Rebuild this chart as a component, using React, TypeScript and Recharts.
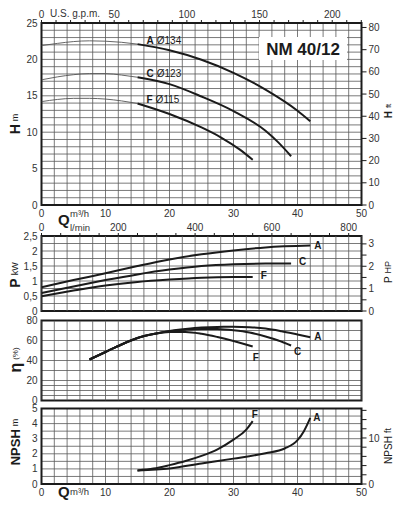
import React from "react";
import {
  LineChart,
  Line,
  XAxis,
  YAxis,
  CartesianGrid,
  ReferenceArea,
} from "recharts";

const FONT = "'Liberation Sans', Arial, Helvetica, sans-serif";
const INK = "#1b1b1b";
const GRID = "#585858";
const TXT = "#333333";

// ---- flow axes ----
const qDomain = [0, 50];
const qTicks = [0, 2, 4, 6, 8, 10, 12, 14, 16, 18, 20, 22, 24, 26, 28, 30, 32, 34, 36, 38, 40, 42, 44, 46, 48, 50];
const qLabels = [0, 10, 20, 30, 40, 50];

const GPM_PER_M3H = 4.40287;
const gpmTicks = [0, 10, 20, 30, 40, 50, 60, 70, 80, 90, 100, 110, 120, 130, 140, 150, 160, 170, 180, 190, 200, 210, 220];
const gpmLabels = [0, 50, 100, 150, 200];

const LMIN_PER_M3H = 16.6667;
const lminTicks = [0, 50, 100, 150, 200, 250, 300, 350, 400, 450, 500, 550, 600, 650, 700, 750, 800];
const lminLabels = [0, 200, 400, 600, 800];

// ---- head ----
const headDomain = [0, 25];
const headTicks = [0, 1, 2, 3, 4, 5, 6, 7, 8, 9, 10, 11, 12, 13, 14, 15, 16, 17, 18, 19, 20, 21, 22, 23, 24, 25];
const headLabels = [0, 5, 10, 15, 20, 25];
const headFtDomain = [0, 82.02];
const headFtTicks = [0, 10, 20, 30, 40, 50, 60, 70, 80];

const headThinQ = [0, 2.5, 5, 7.5, 10, 12.5, 15];
const headAThin = [21.9, 22.2, 22.45, 22.55, 22.5, 22.35, 22.1];
const headCThin = [17.2, 17.6, 17.9, 18.05, 18.05, 17.85, 17.55];
const headFThin = [14.2, 14.5, 14.65, 14.65, 14.55, 14.3, 13.95];

const headAQ = [15, 20, 25, 30, 35, 40, 42];
const headA = [22.1, 21.25, 19.95, 18.15, 15.85, 12.95, 11.5];
const headCQ = [15, 20, 25, 30, 35, 37, 39];
const headC = [17.55, 16.6, 14.9, 12.9, 10.2, 8.6, 6.7];
const headFQ = [15, 20, 25, 28, 31, 33];
const headF = [13.95, 12.5, 10.65, 9.3, 7.6, 6.2];

// ---- power ----
const powerDomain = [0, 2.5];
const powerTicks = [0, 0.25, 0.5, 0.75, 1, 1.25, 1.5, 1.75, 2, 2.25, 2.5];
const powerLabels = [0, 0.5, 1, 1.5, 2, 2.5];
const hpDomain = [0, 3.3526];
const hpTicks = [0, 0.5, 1, 1.5, 2, 2.5, 3];
const hpLabels = [0, 1, 2, 3];

const powerAQ = [0, 5, 10, 15, 20, 25, 30, 35, 42];
const powerA = [0.79, 1.03, 1.26, 1.5, 1.72, 1.89, 2.02, 2.12, 2.18];
const powerCQ = [0, 5, 10, 15, 20, 25, 30, 35, 39];
const powerC = [0.6, 0.82, 1.03, 1.22, 1.38, 1.5, 1.56, 1.58, 1.58];
const powerFQ = [0, 5, 10, 15, 20, 25, 30, 33];
const powerF = [0.49, 0.68, 0.85, 0.97, 1.05, 1.11, 1.13, 1.13];

// ---- efficiency ----
const effDomain = [0, 80];
const effTicks = [0, 5, 10, 15, 20, 30, 40, 50, 60, 70, 80];
const effLabels = [0, 20, 40, 60, 80];

const effAQ = [7.5, 10, 12.5, 15, 17.5, 20, 22.5, 25, 27.5, 30, 32.5, 35, 37.5, 40, 42];
const effA = [41, 48.5, 56, 62.5, 66.5, 69.5, 71.5, 73, 73.6, 73.7, 73.3, 72, 69.3, 66, 63.3];
const effCQ = [7.5, 10, 12.5, 15, 17.5, 20, 22.5, 25, 27.5, 30, 32.5, 35, 37, 39];
const effC = [41, 48.5, 56, 62.5, 66.5, 69.3, 70.8, 71.6, 71.4, 70.2, 68, 64, 60, 55];
const effFQ = [7.5, 10, 12.5, 15, 17.5, 20, 22.5, 25, 27.5, 30, 33];
const effF = [41, 48.5, 56, 62.5, 66.5, 68.5, 68.6, 66.8, 63.5, 59.5, 54];

// ---- NPSH ----
const npshDomain = [0, 5];
const npshTicks = [0, 0.5, 1, 1.5, 2, 2.5, 3, 3.5, 4, 4.5, 5];
const npshLabels = [0, 1, 2, 3, 4, 5];
const npshFtDomain = [0, 16.404];
const npshFtTicks = [0, 2, 4, 6, 8, 10, 12, 14, 16];
const npshFtLabels = [0, 10];

const npshFQ = [15, 17.5, 20, 22.5, 25, 27.5, 30, 32, 33];
const npshF = [0.9, 1.02, 1.25, 1.52, 1.86, 2.3, 2.94, 3.6, 4.16];
const npshAQ = [15, 20, 25, 30, 35, 38, 40, 41, 42];
const npshA = [0.9, 1.03, 1.36, 1.68, 2.04, 2.35, 2.9, 3.5, 4.38];

const rows = (q: number[], v: number[]) => q.map((x, i) => ({ q: x, v: v[i] }));
const only = (list: number[], comma = false) => (v: number) =>
  list.includes(v) ? (comma ? String(v).replace(".", ",") : String(v)) : "";

// secondary flow units placed on the m3/h scale
const gpmAtQ = gpmTicks.map((g) => g / GPM_PER_M3H);
const lminAtQ = lminTicks.map((l) => l / LMIN_PER_M3H);
const unitLabel = (factor: number, list: number[]) => (v: number) => {
  const u = Math.round(v * factor);
  return list.includes(u) ? String(u) : "";
};

const tickStyle = { fontSize: 10, fill: TXT, fontFamily: FONT };
const W = 403;
const SIDE = 41.5;

// curve tag drawn next to one point of a line
const tag =
  (text: string, at: number, dx: number, dy: number, sub?: string) =>
  (p: any) =>
    p.index === at ? (
      <text
        key={text + at}
        x={p.x + dx}
        y={p.y + dy}
        dominantBaseline="central"
        fontFamily={FONT}
        fontSize={10}
        fill={INK}
      >
        <tspan fontWeight={700}>{text}</tspan>
        {sub ? <tspan dx={3}>{sub}</tspan> : null}
      </text>
    ) : null;

function thick(data: any[], label?: any, xAxisId: any = 0) {
  return (
    <Line
      data={data}
      dataKey="v"
      xAxisId={xAxisId}
      type="monotone"
      stroke={INK}
      strokeWidth={2}
      dot={false}
      label={label}
      isAnimationActive={false}
    />
  );
}

// vertical rulings of the middle panels, one per flow tick, spanning the value domain
function flowRulings(domain: number[]) {
  return qTicks.map((q) => (
    <Line
      key={"rule" + q}
      data={[{ q, v: domain[0] }, { q, v: domain[1] }]}
      dataKey="v"
      type="linear"
      stroke={GRID}
      strokeWidth={0.8}
      dot={false}
      activeDot={false}
      legendType="none"
      isAnimationActive={false}
    />
  ));
}

// bottom flow axis without labels
function plainAxis() {
  return (
    <XAxis dataKey="q" type="number" domain={qDomain} ticks={qTicks} interval={0}
      tickFormatter={() => ""} tickLine={false} axisLine={false} tickSize={0} height={2}
      allowDataOverflow />
  );
}

function HeadChart() {
  return (
    <LineChart width={W} height={230} margin={{ top: 0, right: 0, bottom: 0, left: 0 }}>
      <CartesianGrid stroke={GRID} strokeWidth={0.8} />
      <XAxis dataKey="q" type="number" domain={qDomain} ticks={qTicks} interval={0}
        tickFormatter={only(qLabels)} tickLine={false} axisLine={false} tickSize={0}
        tickMargin={5} height={25} tick={tickStyle} allowDataOverflow />
      <XAxis xAxisId="gpm" dataKey="q" orientation="top" type="number" domain={qDomain} ticks={gpmAtQ}
        interval={0} tickFormatter={unitLabel(GPM_PER_M3H, gpmLabels)} height={23} tickSize={3}
        tickMargin={2} axisLine={false} tickLine={{ stroke: INK }} tick={tickStyle} allowDataOverflow />
      <YAxis type="number" domain={headDomain} ticks={headTicks} interval={0}
        tickFormatter={only(headLabels)} width={SIDE} tickSize={0} tickMargin={4}
        axisLine={false} tickLine={false} tick={tickStyle} allowDataOverflow />
      <YAxis yAxisId="ft" orientation="right" type="number" domain={headFtDomain} ticks={headFtTicks}
        interval={0} width={SIDE} tickSize={5} tickMargin={2} axisLine={false}
        tickLine={{ stroke: INK }} tick={tickStyle} allowDataOverflow />
      <ReferenceArea x1={qDomain[0]} x2={qDomain[1]} y1={headDomain[0]} y2={headDomain[1]}
        fill="none" stroke={INK} strokeWidth={2} ifOverflow="visible" />
      {[headAThin, headCThin, headFThin].map((h, i) => (
        <Line key={i} xAxisId="gpm" data={rows(headThinQ, h)} dataKey="v" type="monotone" stroke="#555"
          strokeWidth={0.9} dot={false} isAnimationActive={false} />
      ))}
      {thick(rows(headAQ, headA), tag("A", 0, 9, -4.5, "Ø134"))}
      {thick(rows(headCQ, headC), tag("C", 0, 9, -4.5, "Ø123"))}
      {thick(rows(headFQ, headF), tag("F", 0, 9, -4, "Ø115"))}
    </LineChart>
  );
}

function PowerChart() {
  return (
    <LineChart width={W} height={102} margin={{ top: 0, right: 0, bottom: 4, left: 0 }}>
      <CartesianGrid stroke={GRID} strokeWidth={0.8} vertical={false} />
      {plainAxis()}
      <XAxis xAxisId="lmin" dataKey="q" orientation="top" type="number" domain={qDomain} ticks={lminAtQ}
        interval={0} tickFormatter={unitLabel(LMIN_PER_M3H, lminLabels)} height={21} tickSize={3}
        tickMargin={2} axisLine={false} tickLine={{ stroke: INK }} tick={tickStyle} allowDataOverflow />
      <YAxis type="number" domain={powerDomain} ticks={powerTicks} interval={0}
        tickFormatter={only(powerLabels, true)} width={SIDE} tickSize={0} tickMargin={4}
        axisLine={false} tickLine={false} tick={tickStyle} allowDataOverflow />
      <YAxis yAxisId="hp" orientation="right" type="number" domain={hpDomain} ticks={hpTicks}
        interval={0} tickFormatter={only(hpLabels)} width={SIDE} tickSize={5} tickMargin={2}
        axisLine={false} tickLine={{ stroke: INK }} tick={tickStyle} allowDataOverflow />
      {flowRulings(powerDomain)}
      <ReferenceArea x1={qDomain[0]} x2={qDomain[1]} y1={powerDomain[0]} y2={powerDomain[1]}
        fill="none" stroke={INK} strokeWidth={2} ifOverflow="visible" />
      {thick(rows(powerAQ, powerA), tag("A", powerAQ.length - 1, 4, -1))}
      {thick(rows(powerCQ, powerC), tag("C", powerCQ.length - 1, 8, -3))}
      {thick(rows(powerFQ, powerF), tag("F", powerFQ.length - 1, 8, -2), "lmin")}
    </LineChart>
  );
}

function EffChart() {
  return (
    <LineChart width={W} height={91} margin={{ top: 5.5, right: SIDE, bottom: 3.5, left: 0 }}>
      <CartesianGrid stroke={GRID} strokeWidth={0.8} vertical={false} />
      {plainAxis()}
      <YAxis type="number" domain={effDomain} ticks={effTicks} interval={0}
        tickFormatter={only(effLabels)} width={SIDE} tickSize={0} tickMargin={4}
        axisLine={false} tickLine={false} tick={tickStyle} allowDataOverflow />
      {flowRulings(effDomain)}
      <ReferenceArea x1={qDomain[0]} x2={qDomain[1]} y1={effDomain[0]} y2={effDomain[1]}
        fill="none" stroke={INK} strokeWidth={2} ifOverflow="visible" />
      {thick(rows(effAQ, effA), tag("A", effAQ.length - 1, 4, -1))}
      {thick(rows(effCQ, effC), tag("C", effCQ.length - 1, 3, 5))}
      {thick(rows(effFQ, effF), tag("F", effFQ.length - 1, 0, 10))}
    </LineChart>
  );
}

function NpshChart() {
  return (
    <LineChart width={W} height={104} margin={{ top: 8.5, right: 0, bottom: 0, left: 0 }}>
      <CartesianGrid stroke={GRID} strokeWidth={0.8} />
      <XAxis dataKey="q" type="number" domain={qDomain} ticks={qTicks} interval={0}
        tickFormatter={only(qLabels)} tickLine={false} axisLine={false} tickSize={0}
        tickMargin={5} height={20} tick={tickStyle} allowDataOverflow />
      <YAxis type="number" domain={npshDomain} ticks={npshTicks} interval={0}
        tickFormatter={only(npshLabels)} width={SIDE} tickSize={0} tickMargin={4}
        axisLine={false} tickLine={false} tick={tickStyle} allowDataOverflow />
      <YAxis yAxisId="ft" orientation="right" type="number" domain={npshFtDomain} ticks={npshFtTicks}
        interval={0} tickFormatter={only(npshFtLabels)} width={SIDE} tickSize={5} tickMargin={2}
        axisLine={false} tickLine={{ stroke: INK }} tick={tickStyle} allowDataOverflow />
      <ReferenceArea x1={qDomain[0]} x2={qDomain[1]} y1={npshDomain[0]} y2={npshDomain[1]}
        fill="none" stroke={INK} strokeWidth={2} ifOverflow="visible" />
      {thick(rows(npshFQ, npshF), tag("F", npshFQ.length - 1, -1, -7))}
      {thick(rows(npshAQ, npshA), tag("A", npshAQ.length - 1, 3, -1))}
    </LineChart>
  );
}

function Title({ x, y, main, unit, mainSize = 14, unitSize = 9, bold = true }: any) {
  return (
    <text transform={`translate(${x},${y}) rotate(-90)`} textAnchor="middle"
      dominantBaseline="central" fontFamily={FONT} fill={INK}>
      <tspan fontWeight={bold ? 700 : 400} fontSize={mainSize}>{main}</tspan>
      <tspan fontSize={unitSize} dx={3}>{unit}</tspan>
    </text>
  );
}

function Overlay() {
  return (
    <svg width={W} height={520} style={{ position: "absolute", left: 0, top: 0, pointerEvents: "none" }}>
      <text x={50} y={13} dominantBaseline="central" fontFamily={FONT} fontSize={10} fill={TXT}>U.S. g.p.m.</text>
      <text x={58} y={219} dominantBaseline="central" fontFamily={FONT} fontSize={15} fontWeight={700} fill={INK}>Q</text>
      <text x={70} y={213} dominantBaseline="central" fontFamily={FONT} fontSize={9.5} fill={TXT}>m³/h</text>
      <text x={70} y={227} dominantBaseline="central" fontFamily={FONT} fontSize={9.5} fill={TXT}>l/min</text>
      <text x={58} y={491} dominantBaseline="central" fontFamily={FONT} fontSize={15} fontWeight={700} fill={INK}>Q</text>
      <text x={70} y={491} dominantBaseline="central" fontFamily={FONT} fontSize={9.5} fill={TXT}>m³/h</text>

      <rect x={259} y={37} width={88} height={23} fill="#fff" />
      <text x={303} y={49} textAnchor="middle" dominantBaseline="central" fontFamily={FONT}
        fontSize={17} fontWeight={700} fill={INK}>NM 40/12</text>

      <Title x={15} y={124} main="H" unit="m" />
      <Title x={388} y={111} main="H" unit="ft" mainSize={10} unitSize={8} />
      <Title x={15} y={275} main="P" unit="kW" />
      <Title x={388} y={272} main="P" unit="HP" mainSize={10} unitSize={9} bold={false} />
      <Title x={15} y={360} main="η" unit="(%)" mainSize={16} unitSize={8} />
      <Title x={15} y={442} main="NPSH" unit="m" mainSize={13} unitSize={9} />
      <Title x={388} y={446} main="NPSH" unit="ft" mainSize={10} unitSize={9} bold={false} />
    </svg>
  );
}

export default function App() {
  return (
    <div style={{ position: "absolute", left: 0, top: 0, width: W, height: 520, background: "#fff" }}>
      <div style={{ position: "absolute", left: 0, top: 0 }}><HeadChart /></div>
      <div style={{ position: "absolute", left: 0, top: 215 }}><PowerChart /></div>
      <div style={{ position: "absolute", left: 0, top: 315 }}><EffChart /></div>
      <div style={{ position: "absolute", left: 0, top: 400 }}><NpshChart /></div>
      <Overlay />
    </div>
  );
}
